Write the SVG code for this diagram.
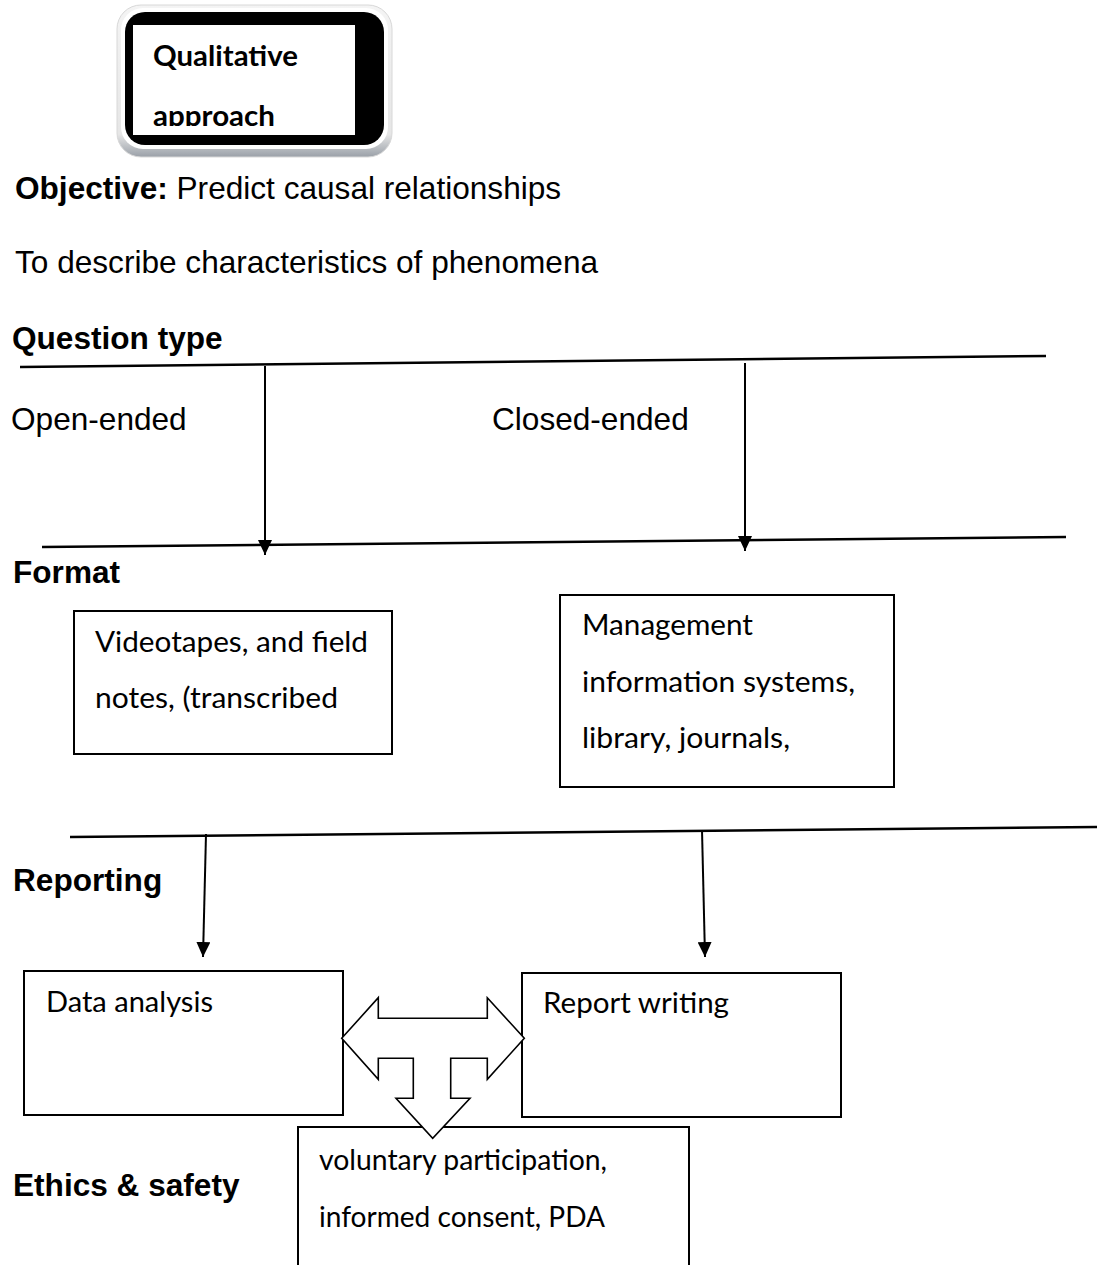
<svg xmlns="http://www.w3.org/2000/svg" width="1097" height="1265" viewBox="0 0 1097 1265">
<style>
.ar{font-family:"Liberation Sans",Arial,sans-serif;font-size:31.6px;fill:#000}
.b{font-weight:bold}
.cal{font-family:Lato,"Open Sans",sans-serif;font-size:28.5px;fill:#000}
.box{fill:#fff;stroke:#000;stroke-width:2}
.sep{stroke:#000;stroke-width:2.5;fill:none}
.con{stroke:#000;stroke-width:2;fill:none}
</style>
<defs>
<marker id="ah" viewBox="0 0 15 14" refX="15" refY="7" markerWidth="15" markerHeight="14" markerUnits="userSpaceOnUse" orient="auto">
<path d="M0,0 L15,7 L0,14 Z" fill="#000"/>
</marker>
<linearGradient id="frame" x1="0" y1="0" x2="0" y2="1">
<stop offset="0" stop-color="#f4f4f4"/>
<stop offset="0.85" stop-color="#e6e6e6"/>
<stop offset="1" stop-color="#9aa0a8"/>
</linearGradient>
<clipPath id="qclip"><rect x="133" y="25" width="222" height="101"/></clipPath>
</defs>
<rect width="1097" height="1265" fill="#fff"/>

<g id="qualitative">
<rect x="117" y="5" width="275" height="152" rx="24" fill="url(#frame)" stroke="#d8d8d8" stroke-width="1"/>
<rect x="121" y="8" width="267" height="141" rx="22" fill="#fff"/>
<rect x="125" y="12" width="259" height="133" rx="20" fill="#000"/>
<rect x="133" y="25" width="222" height="110" fill="#fff"/>
<g clip-path="url(#qclip)">
<text class="cal b" x="153" y="66" textLength="145" lengthAdjust="spacingAndGlyphs">Qualitative</text>
<text class="cal b" x="153" y="126" textLength="122" lengthAdjust="spacingAndGlyphs">approach</text>
</g>
</g>

<g id="labels">
<text class="ar" x="15" y="199"><tspan class="b">Objective:</tspan> Predict causal relationships</text>
<text class="ar" x="15" y="273">To describe characteristics of phenomena</text>
<text class="ar b" x="12" y="349">Question type</text>
<text class="ar" x="11" y="430">Open-ended</text>
<text class="ar" x="492" y="430">Closed-ended</text>
<text class="ar b" x="13" y="583">Format</text>
<text class="ar b" x="13" y="891">Reporting</text>
<text class="ar b" x="13" y="1196">Ethics &amp; safety</text>
</g>

<g id="connectors">
<line class="sep" x1="20" y1="367" x2="1046" y2="356"/>
<line class="sep" x1="42" y1="547" x2="1066" y2="537"/>
<line class="sep" x1="70" y1="837" x2="1097" y2="827"/>
<line class="con" x1="265" y1="366" x2="265" y2="555" marker-end="url(#ah)"/>
<line class="con" x1="745" y1="363" x2="745" y2="551" marker-end="url(#ah)"/>
<line class="con" x1="206" y1="834" x2="203" y2="957" marker-end="url(#ah)"/>
<line class="con" x1="702" y1="830" x2="705" y2="957" marker-end="url(#ah)"/>
</g>

<g id="videotapes">
<rect class="box" x="74" y="611" width="318" height="143"/>
<text class="cal" x="95" y="652" textLength="273" lengthAdjust="spacingAndGlyphs">Videotapes, and field</text>
<text class="cal" x="95" y="708" textLength="243" lengthAdjust="spacingAndGlyphs">notes, (transcribed</text>
</g>

<g id="management">
<rect class="box" x="560" y="595" width="334" height="192"/>
<text class="cal" x="582" y="635" textLength="171" lengthAdjust="spacingAndGlyphs">Management</text>
<text class="cal" x="582" y="692" textLength="273" lengthAdjust="spacingAndGlyphs">information systems,</text>
<text class="cal" x="582" y="748" textLength="208" lengthAdjust="spacingAndGlyphs">library, journals,</text>
</g>

<g id="data-analysis">
<rect class="box" x="24" y="971" width="319" height="144"/>
<text class="cal" x="46" y="1012" textLength="167" lengthAdjust="spacingAndGlyphs">Data analysis</text>
</g>

<g id="report-writing">
<rect class="box" x="522" y="973" width="319" height="144"/>
<text class="cal" x="543" y="1013" textLength="186" lengthAdjust="spacingAndGlyphs">Report writing</text>
</g>

<g id="ethics">
<rect class="box" x="298" y="1127" width="391" height="150"/>
<text class="cal" x="319" y="1170" textLength="288" lengthAdjust="spacingAndGlyphs">voluntary participation,</text>
<text class="cal" x="319" y="1227" textLength="286" lengthAdjust="spacingAndGlyphs">informed consent, PDA</text>
</g>

<g id="t-arrow">
<path d="M341.7,1038.3 L378.3,997.7 L378.3,1018.3 L487.3,1018.3 L487.3,997.7 L524.3,1038.3 L487.3,1079.3 L487.3,1058.3 L450.7,1058.3 L450.7,1098.3 L470,1098.3 L432.7,1138.3 L396,1098.3 L413.3,1098.3 L413.3,1058.3 L378.3,1058.3 L378.3,1079.3 Z" fill="#fff" stroke="#000" stroke-width="1.6" stroke-linejoin="miter"/>
</g>
</svg>
